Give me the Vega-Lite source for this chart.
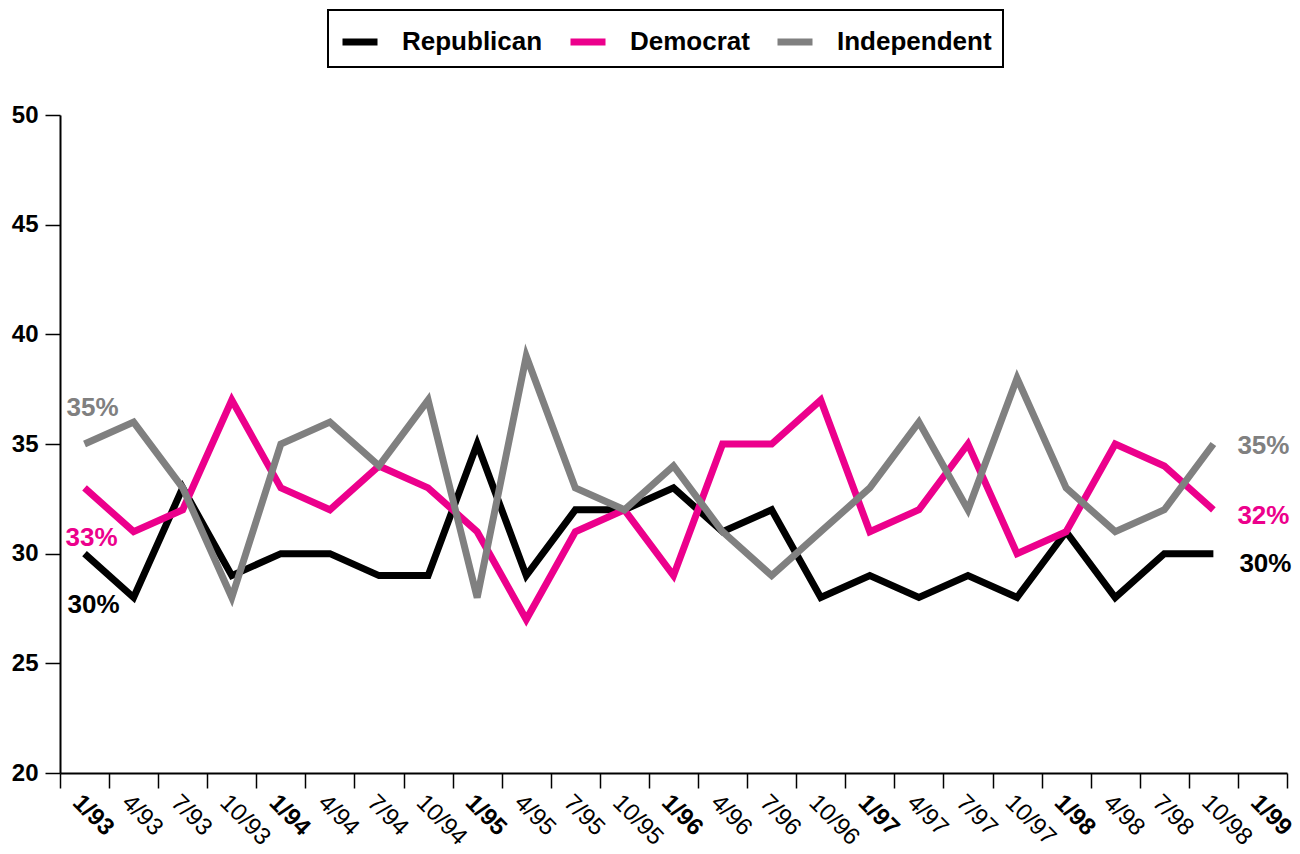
{
  "$schema": "https://vega.github.io/schema/vega-lite/v6.json",
  "width": 1227,
  "height": 658,
  "autosize": {"type": "none"},
  "padding": {"left": 60, "top": 115, "right": 13, "bottom": 81},
  "background": "white",
  "config": {
    "view": {"stroke": null},
    "font": "Liberation Sans",
    "legend": {"strokeWidth": 2}
  },
  "data": {
    "values": [
      {"quarter": "1/93", "Republican": 30, "Democrat": 33, "Independent": 35},
      {"quarter": "4/93", "Republican": 28, "Democrat": 31, "Independent": 36},
      {"quarter": "7/93", "Republican": 33, "Democrat": 32, "Independent": 33},
      {"quarter": "10/93", "Republican": 29, "Democrat": 37, "Independent": 28},
      {"quarter": "1/94", "Republican": 30, "Democrat": 33, "Independent": 35},
      {"quarter": "4/94", "Republican": 30, "Democrat": 32, "Independent": 36},
      {"quarter": "7/94", "Republican": 29, "Democrat": 34, "Independent": 34},
      {"quarter": "10/94", "Republican": 29, "Democrat": 33, "Independent": 37},
      {"quarter": "1/95", "Republican": 35, "Democrat": 31, "Independent": 28},
      {"quarter": "4/95", "Republican": 29, "Democrat": 27, "Independent": 39},
      {"quarter": "7/95", "Republican": 32, "Democrat": 31, "Independent": 33},
      {"quarter": "10/95", "Republican": 32, "Democrat": 32, "Independent": 32},
      {"quarter": "1/96", "Republican": 33, "Democrat": 29, "Independent": 34},
      {"quarter": "4/96", "Republican": 31, "Democrat": 35, "Independent": 31},
      {"quarter": "7/96", "Republican": 32, "Democrat": 35, "Independent": 29},
      {"quarter": "10/96", "Republican": 28, "Democrat": 37, "Independent": 31},
      {"quarter": "1/97", "Republican": 29, "Democrat": 31, "Independent": 33},
      {"quarter": "4/97", "Republican": 28, "Democrat": 32, "Independent": 36},
      {"quarter": "7/97", "Republican": 29, "Democrat": 35, "Independent": 32},
      {"quarter": "10/97", "Republican": 28, "Democrat": 30, "Independent": 38},
      {"quarter": "1/98", "Republican": 31, "Democrat": 31, "Independent": 33},
      {"quarter": "4/98", "Republican": 28, "Democrat": 35, "Independent": 31},
      {"quarter": "7/98", "Republican": 30, "Democrat": 34, "Independent": 32},
      {"quarter": "10/98", "Republican": 30, "Democrat": 32, "Independent": 35}
    ]
  },
  "transform": [
    {"fold": ["Republican", "Democrat", "Independent"], "as": ["party", "pct"]},
    {"calculate": "datum.pct + '%'", "as": "label"}
  ],
  "encoding": {
    "x": {
      "field": "quarter",
      "type": "ordinal",
      "sort": null,
      "scale": {
        "type": "band",
        "domain": ["1/93", "4/93", "7/93", "10/93", "1/94", "4/94", "7/94", "10/94", "1/95", "4/95", "7/95", "10/95", "1/96", "4/96", "7/96", "10/96", "1/97", "4/97", "7/97", "10/97", "1/98", "4/98", "7/98", "10/98", "1/99"],
        "paddingInner": 0,
        "paddingOuter": 0
      },
      "axis": {
        "title": null,
        "tickBand": "extent",
        "labelAngle": 45,
        "labelAlign": "left",
        "labelBaseline": "top",
        "labelFontSize": 24,
        "labelColor": "black",
        "labelFontWeight": {"condition": {"test": "substring(datum.value, 0, 2) === '1/'", "value": "bold"}, "value": "normal"},
        "labelOverlap": false,
        "labelFlush": false,
        "labelBound": false,
        "labelPadding": 2,
        "tickSize": 15,
        "tickWidth": 1.5,
        "tickColor": "black",
        "domainColor": "black",
        "domainWidth": 2,
        "grid": false
      }
    },
    "y": {
      "field": "pct",
      "type": "quantitative",
      "scale": {"domain": [20, 50], "nice": false, "zero": false},
      "axis": {
        "title": null,
        "values": [20, 25, 30, 35, 40, 45, 50],
        "labelFontSize": 24,
        "labelFontWeight": "bold",
        "labelColor": "black",
        "labelPadding": 7,
        "tickSize": 15,
        "tickWidth": 1.5,
        "tickColor": "black",
        "domainColor": "black",
        "domainWidth": 2,
        "grid": false
      }
    }
  },
  "layer": [
    {
      "mark": {"type": "line", "strokeWidth": 7, "strokeJoin": "miter", "strokeCap": "butt"},
      "encoding": {
        "color": {
          "field": "party",
          "type": "nominal",
          "sort": ["Republican", "Democrat", "Independent"],
          "scale": {"domain": ["Republican", "Democrat", "Independent"], "range": ["#000000", "#EC008C", "#808080"]},
          "legend": {
            "title": null,
            "orient": "none",
            "direction": "horizontal",
            "legendX": 268,
            "legendY": -105,
            "symbolType": "stroke",
            "symbolStrokeWidth": 7,
            "symbolSize": 1225,
            "labelFontSize": 26,
            "labelFontWeight": "bold",
            "labelColor": "black",
            "labelOffset": 21,
            "columnPadding": 13,
            "padding": 11,
            "strokeColor": "black",
            "fillColor": "white"
          }
        }
      }
    },
    {
      "transform": [{"filter": "datum.quarter === '1/93' && datum.party === 'Independent'"}],
      "mark": {"type": "text", "align": "left", "baseline": "middle", "dx": -18, "dy": -36, "fontSize": 26, "fontWeight": "bold", "color": "#808080"},
      "encoding": {"text": {"field": "label"}}
    },
    {
      "transform": [{"filter": "datum.quarter === '1/93' && datum.party === 'Democrat'"}],
      "mark": {"type": "text", "align": "left", "baseline": "middle", "dx": -19, "dy": 50, "fontSize": 26, "fontWeight": "bold", "color": "#EC008C"},
      "encoding": {"text": {"field": "label"}}
    },
    {
      "transform": [{"filter": "datum.quarter === '1/93' && datum.party === 'Republican'"}],
      "mark": {"type": "text", "align": "left", "baseline": "middle", "dx": -17, "dy": 51, "fontSize": 26, "fontWeight": "bold", "color": "#000000"},
      "encoding": {"text": {"field": "label"}}
    },
    {
      "transform": [{"filter": "datum.quarter === '10/98' && datum.party === 'Independent'"}],
      "mark": {"type": "text", "align": "left", "baseline": "middle", "dx": 24, "dy": 2, "fontSize": 26, "fontWeight": "bold", "color": "#808080"},
      "encoding": {"text": {"field": "label"}}
    },
    {
      "transform": [{"filter": "datum.quarter === '10/98' && datum.party === 'Democrat'"}],
      "mark": {"type": "text", "align": "left", "baseline": "middle", "dx": 24, "dy": 6, "fontSize": 26, "fontWeight": "bold", "color": "#EC008C"},
      "encoding": {"text": {"field": "label"}}
    },
    {
      "transform": [{"filter": "datum.quarter === '10/98' && datum.party === 'Republican'"}],
      "mark": {"type": "text", "align": "left", "baseline": "middle", "dx": 26, "dy": 10, "fontSize": 26, "fontWeight": "bold", "color": "#000000"},
      "encoding": {"text": {"field": "label"}}
    }
  ]
}
